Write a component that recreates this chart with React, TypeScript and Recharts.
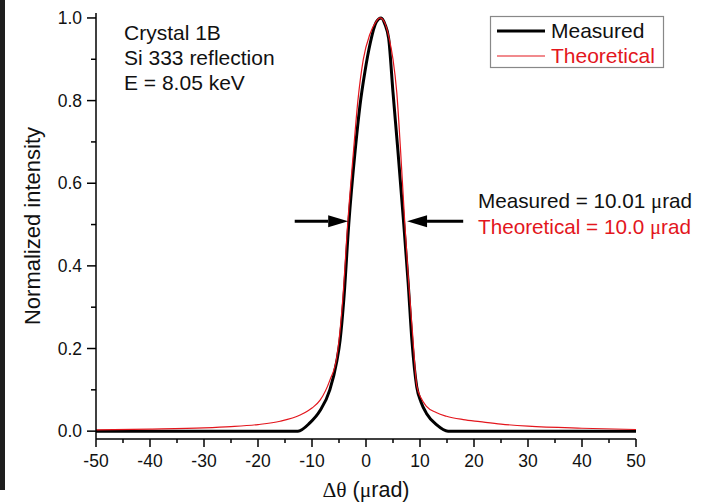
import React from "react";
import { Line, LineChart, ReferenceLine, XAxis, YAxis } from "recharts";

// measured rocking curve (black)
const measuredX = [-50, -12.6, -10.4, -8.5, -6.7, -5.4, -4.8, -4.1, -3.2, -2.0, -1.1, -0.2, 0.8, 1.9, 2.8, 3.5, 4.2, 5.0, 5.9, 7.0, 7.8, 8.5, 9.4, 10.2, 11.2, 13.1, 15.2, 50];
const measuredY = [0, 0, 0.02, 0.05, 0.1, 0.17, 0.22, 0.32, 0.5, 0.68, 0.79, 0.87, 0.94, 0.99, 1.0, 0.985, 0.95, 0.82, 0.68, 0.5, 0.36, 0.22, 0.107, 0.07, 0.043, 0.015, 0, 0];

// theoretical Darwin curve (red)
const theoryX = [-50, -40, -30, -25, -20, -15.9, -12.2, -10, -8.5, -6.7, -5.4, -5.0, -4.3, -3.4, -2.3, -1.5, -0.5, 0.7, 1.8, 2.6, 3.4, 4.3, 5.0, 5.7, 6.4, 7.2, 7.9, 8.6, 9.4, 10.2, 11.2, 13, 14.9, 18, 21.1, 25, 30, 40, 50];
const theoryY = [0.003, 0.005, 0.008, 0.011, 0.016, 0.024, 0.039, 0.056, 0.075, 0.123, 0.18, 0.22, 0.32, 0.5, 0.68, 0.8, 0.9, 0.96, 0.99, 1.0, 0.99, 0.95, 0.9, 0.82, 0.68, 0.5, 0.36, 0.24, 0.11, 0.08, 0.06, 0.045, 0.036, 0.028, 0.023, 0.017, 0.012, 0.007, 0.004];

const xTicks = [-50, -45, -40, -35, -30, -25, -20, -15, -10, -5, 0, 5, 10, 15, 20, 25, 30, 35, 40, 45, 50];
const yTicks = [0, 0.1, 0.2, 0.3, 0.4, 0.5, 0.6, 0.7, 0.8, 0.9, 1.0];

// FWHM arrows: [from, to] at half maximum
const leftArrow = [-13.2, -3.3];
const rightArrow = [18, 7.6];
const arrowLevel = 0.508;

const measured = measuredX.map((x, i) => ({ x, y: measuredY[i] }));
const theory = theoryX.map((x, i) => ({ x, y: theoryY[i] }));

const RED = "#e3161d";
const FONT = "'Liberation Sans', Arial, sans-serif";
const SERIF = "'Liberation Serif', 'DejaVu Serif', serif";

const XTick = ({ x, y, payload }: any) => {
  const v = payload.value;
  const major = v % 10 === 0;
  return (
    <g>
      <line x1={x} x2={x} y1={y} y2={y + (major ? 8 : 4)} stroke="#000" strokeWidth={1.5} />
      {major && (
        <text x={x} y={y + 28} textAnchor="middle" fontSize={17.5} fontFamily={FONT} fill="#111">
          {v}
        </text>
      )}
    </g>
  );
};

const YTick = ({ x, y, payload }: any) => {
  const v = payload.value;
  const major = Math.round(v * 10) % 2 === 0;
  return (
    <g>
      <line x1={x} x2={x - (major ? 9 : 5)} y1={y} y2={y} stroke="#000" strokeWidth={1.5} />
      {major && (
        <text x={x - 14} y={y + 6} textAnchor="end" fontSize={17.5} fontFamily={FONT} fill="#111">
          {v.toFixed(1)}
        </text>
      )}
    </g>
  );
};

const Arrow = (props: any) => {
  const { x1, y1, x2, y2 } = props;
  const dir = x2 > x1 ? 1 : -1;
  const head = 20;
  return (
    <g>
      <line x1={x1} y1={y1} x2={x2 - dir * head} y2={y2} stroke="#000" strokeWidth={3} />
      <polygon
        points={`${x2},${y2} ${x2 - dir * head},${y2 - 6} ${x2 - dir * head},${y2 + 6}`}
        fill="#000"
      />
    </g>
  );
};

const XTitle = ({ viewBox }: any) => {
  const cx = viewBox.x + viewBox.width / 2;
  return (
    <text x={cx} y={viewBox.y + 58} textAnchor="middle" fontSize={21.5} fontFamily={FONT} fill="#111">
      <tspan fontFamily={SERIF}>Δθ</tspan>
      <tspan> (</tspan>
      <tspan fontFamily={SERIF}>μ</tspan>
      <tspan>rad)</tspan>
    </text>
  );
};

const YTitle = ({ viewBox }: any) => {
  const cy = viewBox.y + viewBox.height / 2;
  return (
    <text
      x={40}
      y={cy}
      transform={`rotate(-90 40 ${cy})`}
      textAnchor="middle"
      fontSize={22}
      fontFamily={FONT}
      fill="#111"
    >
      Normalized intensity
    </text>
  );
};

export default function App() {
  return (
    <div style={{ position: "absolute", left: 0, top: 0, width: 708, height: 502, background: "#fff" }}>
      <div style={{ position: "absolute", left: 0, top: 0, width: 5, height: 490, background: "#1e1e1e" }} />
      <LineChart width={708} height={502} margin={{ top: 13, right: 72, bottom: 0, left: 0 }}>
        <XAxis
          type="number"
          dataKey="x"
          domain={[-50, 50]}
          ticks={xTicks}
          interval={0}
          height={63}
          tickSize={0}
          tickMargin={0}
          tickLine={false}
          tick={<XTick />}
          axisLine={{ stroke: "#000", strokeWidth: 1.5 }}
          label={<XTitle />}
        />
        <YAxis
          type="number"
          dataKey="y"
          domain={[-0.019, 1.012]}
          ticks={yTicks}
          interval={0}
          width={96}
          tickSize={0}
          tickMargin={0}
          tickLine={false}
          tick={<YTick />}
          axisLine={{ stroke: "#000", strokeWidth: 1.5 }}
          allowDataOverflow
          label={<YTitle />}
        />
        <Line
          data={measured}
          dataKey="y"
          type="monotone"
          stroke="#000"
          strokeWidth={3}
          dot={false}
          isAnimationActive={false}
        />
        <Line
          data={theory}
          dataKey="y"
          type="monotone"
          stroke={RED}
          strokeWidth={1.2}
          dot={false}
          isAnimationActive={false}
        />
        <ReferenceLine
          segment={[{ x: leftArrow[0], y: arrowLevel }, { x: leftArrow[1], y: arrowLevel }]}
          shape={<Arrow />}
        />
        <ReferenceLine
          segment={[{ x: rightArrow[0], y: arrowLevel }, { x: rightArrow[1], y: arrowLevel }]}
          shape={<Arrow />}
        />
      </LineChart>
      <svg
        width={708}
        height={502}
        style={{ position: "absolute", left: 0, top: 0, pointerEvents: "none" }}
        fontFamily={FONT}
      >
        <g fontSize={21} fill="#111">
          <text x={124} y={40}>Crystal 1B</text>
          <text x={124} y={65}>Si 333 reflection</text>
          <text x={124} y={90}>E = 8.05 keV</text>
        </g>
        <rect x={490.5} y={16.5} width={173} height={51} fill="#fff" stroke="#888" strokeWidth={1.2} />
        <line x1={497} x2={545} y1={31} y2={31} stroke="#000" strokeWidth={3} />
        <line x1={497} x2={545} y1={56} y2={56} stroke={RED} strokeWidth={1.2} />
        <text x={551} y={38} fontSize={21} fill="#111">Measured</text>
        <text x={551} y={63} fontSize={21} fill={RED}>Theoretical</text>
        <text x={478} y={208} fontSize={20.7} fill="#111">
          Measured = 10.01 <tspan fontFamily={SERIF}>μ</tspan>rad
        </text>
        <text x={478} y={234} fontSize={20.7} fill={RED}>
          Theoretical = 10.0 <tspan fontFamily={SERIF}>μ</tspan>rad
        </text>
      </svg>
    </div>
  );
}
